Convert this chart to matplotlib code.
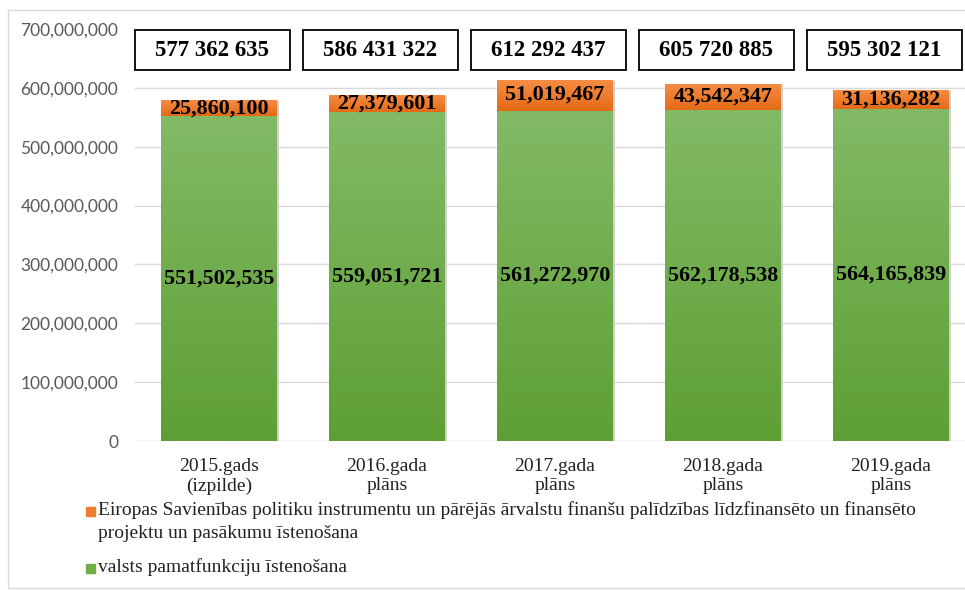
import numpy as np
import matplotlib
matplotlib.use("Agg")
import matplotlib.pyplot as plt
from matplotlib.patches import Rectangle
from matplotlib.colors import LinearSegmentedColormap

categories = ["2015.gads\n(izpilde)", "2016.gada\nplāns", "2017.gada\nplāns",
              "2018.gada\nplāns", "2019.gada\nplāns"]
green_vals = [551502535, 559051721, 561272970, 562178538, 564165839]
orange_vals = [25860100, 27379601, 51019467, 43542347, 31136282]
totals = ["577 362 635", "586 431 322", "612 292 437", "605 720 885", "595 302 121"]
legend_labels = ["Eiropas Savienības politiku instrumentu un pārējās ārvalstu finanšu palīdzības līdzfinansēto un finansēto\nprojektu un pasākumu īstenošana",
                 "valsts pamatfunkciju īstenošana"]

serif = "Liberation Serif"
W, H = 965, 590
fig = plt.figure(figsize=(W / 100, H / 100), dpi=100)
ax = fig.add_axes([135 / W, 1 - 441 / H, 830 / W, (441 - 29) / H])

green_cmap = LinearSegmentedColormap.from_list("g", ["#5e9f33", "#82ba66"])
orange_cmap = LinearSegmentedColormap.from_list("o", ["#e56a14", "#f58d45"])
grad = np.linspace(0, 1, 256).reshape(-1, 1)

bw = 0.69
x = np.arange(len(categories))
for i in range(len(x)):
    g = green_vals[i]
    o = orange_vals[i]
    # subtle shadow
    ax.add_patch(Rectangle((x[i] - bw / 2 + 0.012, 0), bw, g + o, color="#d0d0d0",
                           zorder=1.5, lw=0))
    ax.imshow(grad, cmap=green_cmap, origin="lower", aspect="auto",
              extent=(x[i] - bw / 2, x[i] + bw / 2, 0, g), zorder=2)
    ax.imshow(grad, cmap=orange_cmap, origin="lower", aspect="auto",
              extent=(x[i] - bw / 2, x[i] + bw / 2, g, g + o), zorder=2)
    ax.text(x[i], g / 2, f"{g:,}", ha="center", va="center", fontsize=15.8,
            fontweight="bold", family=serif, zorder=3)
    ax.text(x[i], g + o / 2 + 1e6, f"{o:,}", ha="center", va="center", fontsize=15.8,
            fontweight="bold", family=serif, zorder=3)
    ax.add_patch(Rectangle((x[i] - 0.04 - 0.46, 630e6), 0.92, 68e6, fill=False,
                           edgecolor="black", lw=1.3, clip_on=False, zorder=4))
    ax.text(x[i] - 0.04, 664e6, totals[i], ha="center", va="center", fontsize=16.5,
            fontweight="bold", family=serif, zorder=4, clip_on=False)

ax.set_xlim(-0.5, -0.5 + 830 / 168)
ax.set_ylim(0, 700e6)
ax.set_yticks(np.arange(0, 700e6 + 1, 100e6))
ax.set_yticklabels([f"{int(v):,}" for v in np.arange(0, 700e6 + 1, 100e6)],
                   family="Lato", fontsize=12.5, color="#595959")
ax.set_xticks(x)
ax.set_xticklabels(categories, family=serif, fontsize=14, color="#222222",
                   linespacing=1.2)
ax.tick_params(axis="both", length=0)
ax.tick_params(axis="y", pad=12)
ax.tick_params(axis="x", pad=12)
ax.yaxis.grid(True, color="#d9d9d9", lw=1)
ax.set_axisbelow(True)
ax.get_ygridlines()[-1].set_visible(False)
for s in ax.spines.values():
    s.set_visible(False)

# legend
leg_colors = ["#ed7d31", "#70ad47"]
leg_y = [511, 568]
for c, lab, yy in zip(leg_colors, legend_labels, leg_y):
    fig.patches.append(Rectangle((86 / W, 1 - (yy + 4.5) / H), 9 / W, 9 / H,
                                 color=c, transform=fig.transFigure))
    fig.text(98 / W, 1 - (yy - 10) / H, lab, family=serif, fontsize=14,
             color="#222222", va="top", ha="left", linespacing=1.45)

# outer frame
fig.patches.append(Rectangle((8 / W, 1 - 588 / H), 1.0, 578 / H, fill=False,
                             edgecolor="#d9d9d9", lw=1, transform=fig.transFigure))

fig.savefig("out.png", dpi=100)
